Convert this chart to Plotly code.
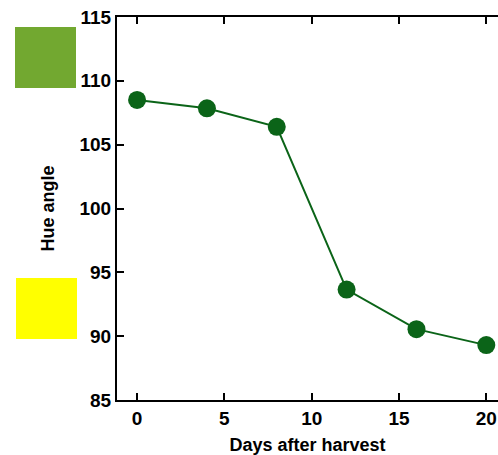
import plotly.graph_objects as go

days = [0, 4, 8, 12, 16, 20]
hue = [108.5, 107.85, 106.4, 93.65, 90.55, 89.3]
x_ticks = [0, 5, 10, 15, 20]
y_ticks = [85, 90, 95, 100, 105, 110, 115]

W, H = 498, 455
ML, MR, MT, MB = 117, 0, 17, 55
PW, PH = W - ML - MR, H - MT - MB

def px(x):
    return (x - ML) / PW

def py(y):
    return (H - MB - y) / PH

fig = go.Figure(go.Scatter(
    x=days, y=hue, mode="lines+markers",
    line=dict(color="#0b6418", width=2),
    marker=dict(color="#0b6418", size=18),
    cliponaxis=False,
))

font_tick = dict(family="Liberation Sans, Arial", size=19, color="black", weight="bold")
font_title = dict(family="Liberation Sans, Arial", size=18, color="black")

axis_common = dict(
    showline=True, linecolor="black", linewidth=2,
    ticks="inside", ticklen=7, tickwidth=2, tickcolor="black",
    showgrid=False, zeroline=False,
    tickfont=font_tick, ticklabeloverflow="allow",
)

fig.update_layout(
    width=W, height=H,
    margin=dict(l=ML, r=MR, t=MT, b=MB),
    plot_bgcolor="white", paper_bgcolor="white",
    showlegend=False,
    xaxis=dict(range=[-1.15, 20.67], tickvals=x_ticks, mirror="ticks",
               title=dict(text="<b>Days after harvest</b>", standoff=12, font=font_title),
               **axis_common),
    yaxis=dict(range=[85, 115], tickvals=y_ticks, mirror=False,
               title=dict(text="<b>Hue angle</b>", standoff=20, font=font_title),
               **axis_common),
    shapes=[
        dict(type="rect", xref="paper", yref="paper",
             x0=px(15), x1=px(76), y0=py(88), y1=py(27),
             fillcolor="#72a830", line=dict(width=0), layer="above"),
        dict(type="rect", xref="paper", yref="paper",
             x0=px(16), x1=px(77), y0=py(339), y1=py(278),
             fillcolor="#ffff00", line=dict(width=0), layer="above"),
    ],
)

fig.write_html("out.html")
